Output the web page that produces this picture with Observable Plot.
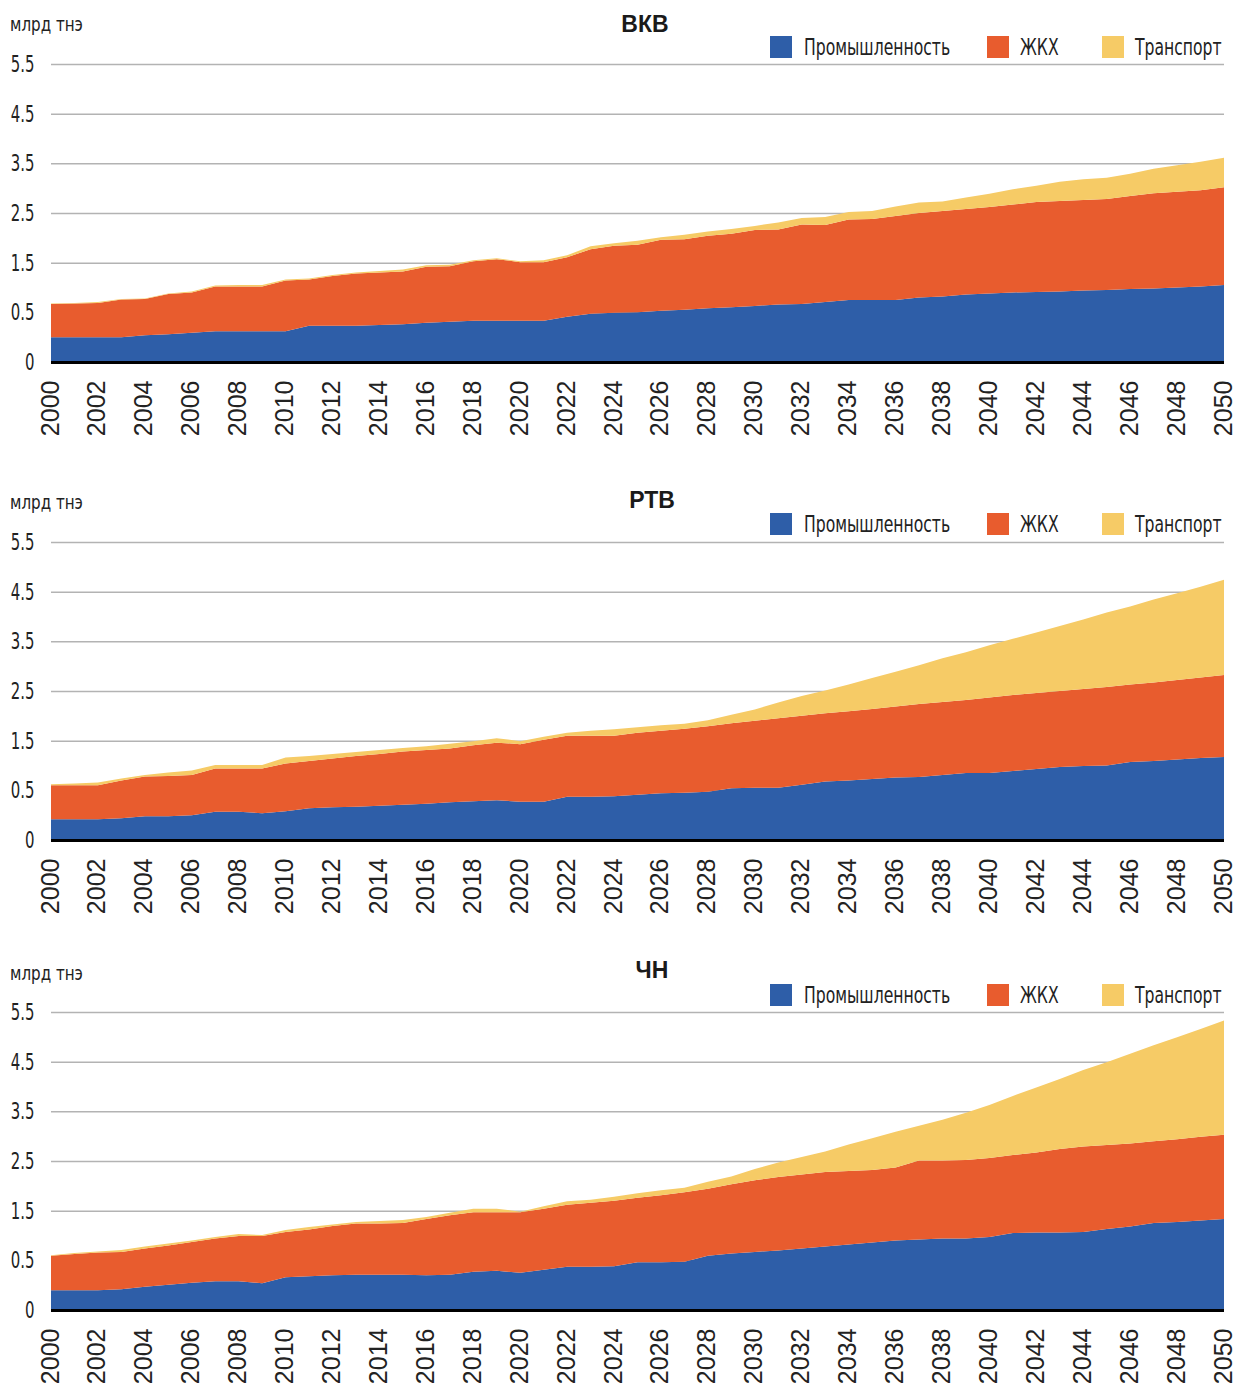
<!DOCTYPE html>
<html>
<head>
<meta charset="utf-8">
<script src="https://cdn.jsdelivr.net/npm/d3@7"></script>
<script src="https://cdn.jsdelivr.net/npm/@observablehq/plot@0.6"></script>
<style>
  html, body { margin: 0; padding: 0; background: #fff; }
  #root { position: relative; width: 1235px; height: 1387px; overflow: hidden; }
  .cond { font-family: "Liberation Sans Narrow", "DejaVu Sans Condensed", "Roboto", sans-serif; color: #222; }
  .title { position: absolute; font-family: "Liberation Sans", Arial, sans-serif; font-weight: bold; font-size: 23px; color: #1a1a1a; transform: translate(-50%, -50%); white-space: nowrap; }
  .unit { position: absolute; left: 10px; font-size: 20px; transform: translateY(-50%) scaleX(0.84); transform-origin: left center; white-space: nowrap; }
  .sw { position: absolute; width: 22px; height: 22px; transform: translateY(-50%); }
  .lt { position: absolute; transform: translateY(-50%) scaleX(0.755); transform-origin: left center; font-size: 23px; white-space: nowrap; }
  .panel { position: absolute; left: 0; }
</style>
</head>
<body>
<div id="root"></div>
<script>
const years = [2000,2001,2002,2003,2004,2005,2006,2007,2008,2009,2010,2011,2012,2013,2014,2015,2016,2017,2018,2019,2020,2021,2022,2023,2024,2025,2026,2027,2028,2029,2030,2031,2032,2033,2034,2035,2036,2037,2038,2039,2040,2041,2042,2043,2044,2045,2046,2047,2048,2049,2050];
const xTickYears = [2000,2002,2004,2006,2008,2010,2012,2014,2016,2018,2020,2022,2024,2026,2028,2030,2032,2034,2036,2038,2040,2042,2044,2046,2048,2050];
const yTickValues = [0,1,2,3,4,5,6];
const yTickLabels = ["0","0.5","1.5","2.5","3.5","4.5","5.5"];
const sectors = ["Промышленность","ЖКХ","Транспорт"];
const sectorColors = ["#2e5ea8","#e85c2e","#f6cb66"];
const unitLabel = "млрд тнэ";
const panelTitles = ["ВКВ","РТВ","ЧН"];

// ВКВ
const vkvIndustry = [0.50,0.50,0.50,0.50,0.54,0.56,0.59,0.62,0.62,0.62,0.62,0.73,0.73,0.73,0.745,0.76,0.79,0.81,0.83,0.83,0.83,0.83,0.91,0.97,0.99,1.00,1.03,1.05,1.08,1.10,1.13,1.16,1.17,1.21,1.25,1.25,1.25,1.30,1.32,1.36,1.38,1.40,1.41,1.42,1.44,1.45,1.47,1.48,1.50,1.52,1.55];
const vkvHousing = [0.67,0.68,0.69,0.76,0.73,0.81,0.81,0.90,0.90,0.90,1.02,0.93,1.00,1.05,1.055,1.06,1.13,1.12,1.20,1.24,1.18,1.18,1.20,1.30,1.35,1.36,1.43,1.42,1.46,1.48,1.53,1.51,1.60,1.55,1.62,1.63,1.69,1.70,1.72,1.72,1.74,1.77,1.81,1.82,1.82,1.83,1.87,1.92,1.93,1.94,1.97];
const vkvTransport = [0.01,0.01,0.02,0.01,0.01,0.01,0.02,0.02,0.03,0.03,0.02,0.02,0.02,0.02,0.03,0.04,0.03,0.03,0.02,0.02,0.02,0.04,0.04,0.06,0.05,0.08,0.05,0.09,0.09,0.10,0.08,0.14,0.13,0.16,0.15,0.16,0.19,0.21,0.19,0.23,0.27,0.31,0.33,0.39,0.42,0.43,0.45,0.49,0.53,0.57,0.59];

// РТВ
const rtvIndustry = [0.42,0.42,0.42,0.44,0.48,0.48,0.50,0.57,0.57,0.54,0.58,0.64,0.66,0.67,0.69,0.71,0.73,0.76,0.78,0.80,0.77,0.77,0.87,0.87,0.88,0.91,0.94,0.95,0.97,1.04,1.05,1.05,1.11,1.18,1.20,1.23,1.26,1.27,1.31,1.35,1.35,1.39,1.43,1.47,1.49,1.50,1.57,1.59,1.62,1.65,1.67];
const rtvHousing = [0.68,0.68,0.68,0.76,0.80,0.81,0.81,0.87,0.87,0.90,0.96,0.95,0.98,1.02,1.04,1.07,1.08,1.08,1.13,1.16,1.16,1.25,1.23,1.23,1.22,1.25,1.26,1.29,1.32,1.31,1.35,1.40,1.39,1.37,1.39,1.41,1.43,1.47,1.47,1.47,1.52,1.53,1.53,1.53,1.55,1.58,1.56,1.58,1.60,1.62,1.65];
const rtvTransport = [0.02,0.04,0.06,0.04,0.03,0.07,0.09,0.07,0.07,0.07,0.12,0.10,0.09,0.08,0.08,0.07,0.08,0.10,0.08,0.09,0.06,0.06,0.06,0.10,0.13,0.11,0.11,0.10,0.12,0.17,0.23,0.32,0.40,0.46,0.54,0.62,0.70,0.78,0.88,0.96,1.05,1.13,1.22,1.31,1.40,1.50,1.57,1.67,1.75,1.83,1.92];

// ЧН
const chnIndustry = [0.40,0.40,0.40,0.42,0.47,0.51,0.55,0.58,0.58,0.54,0.66,0.68,0.70,0.71,0.71,0.71,0.70,0.71,0.77,0.79,0.75,0.81,0.87,0.87,0.88,0.96,0.96,0.97,1.09,1.14,1.17,1.20,1.24,1.28,1.32,1.36,1.40,1.42,1.44,1.44,1.47,1.55,1.56,1.56,1.57,1.63,1.68,1.75,1.77,1.80,1.83];
const chnHousing = [0.69,0.73,0.76,0.75,0.77,0.79,0.82,0.86,0.91,0.95,0.91,0.94,0.99,1.03,1.03,1.04,1.13,1.20,1.20,1.18,1.22,1.23,1.25,1.29,1.32,1.30,1.35,1.40,1.35,1.39,1.44,1.48,1.49,1.50,1.48,1.46,1.47,1.59,1.57,1.58,1.59,1.57,1.61,1.68,1.72,1.69,1.67,1.65,1.67,1.69,1.70];
const chnTransport = [0.01,0.02,0.02,0.04,0.04,0.04,0.03,0.03,0.04,0.02,0.04,0.05,0.03,0.03,0.05,0.06,0.04,0.05,0.07,0.07,0.01,0.05,0.07,0.06,0.08,0.09,0.10,0.09,0.14,0.16,0.23,0.29,0.35,0.41,0.53,0.64,0.72,0.70,0.82,0.95,1.07,1.19,1.31,1.41,1.54,1.67,1.81,1.93,2.05,2.17,2.30];

const panels = [
  {title: panelTitles[0], series: [vkvIndustry, vkvHousing, vkvTransport], titleX: 645, titleY: 24, unitY: 24, legendY: 47, svgTop: 54},
  {title: panelTitles[1], series: [rtvIndustry, rtvHousing, rtvTransport], titleX: 652, titleY: 500, unitY: 502, legendY: 524, svgTop: 532},
  {title: panelTitles[2], series: [chnIndustry, chnHousing, chnTransport], titleX: 652, titleY: 970, unitY: 973, legendY: 995, svgTop: 1002}
];

const root = document.getElementById("root");
const condFont = '"Liberation Sans Narrow", "DejaVu Sans Condensed", Roboto, sans-serif';
const legendPos = [{sx: 770, tx: 804}, {sx: 987, tx: 1020}, {sx: 1102, tx: 1135}];

function el(tag, cls, style, text) {
  const e = document.createElement(tag);
  if (cls) e.className = cls;
  Object.assign(e.style, style || {});
  if (text != null) e.textContent = text;
  root.appendChild(e);
  return e;
}

// narrow the y tick labels (the reference uses a condensed face) once they are in the DOM
function condense(svg, label, k) {
  d3.select(svg).selectAll(`g[aria-label="${label}"] text`).each(function() {
    const w = this.getComputedTextLength();
    if (w > 0) {
      this.setAttribute("textLength", (w * k).toFixed(2));
      this.setAttribute("lengthAdjust", "spacingAndGlyphs");
    }
  });
}

for (const p of panels) {
  const rows = [];
  p.series.forEach((vals, si) => {
    vals.forEach((v, i) => rows.push({year: years[i], sector: sectors[si], value: v}));
  });

  const chart = Plot.plot({
    width: 1235,
    height: 393,
    marginLeft: 51,
    marginRight: 11,
    marginTop: 10,
    marginBottom: 85,
    style: {background: "transparent", overflow: "visible"},
    x: {domain: [2000, 2050], label: null},
    y: {domain: [0, 6], label: null},
    color: {domain: sectors, range: sectorColors},
    marks: [
      Plot.ruleY(yTickValues.filter(v => v > 0), {stroke: "#b3b3b3", strokeWidth: 1.5}),
      Plot.areaY(rows, {x: "year", y: "value", fill: "sector", order: sectors}),
      Plot.ruleY([0], {stroke: "#000", strokeWidth: 3}),
      Plot.axisX({ticks: xTickYears, tickFormat: d => String(d), tickRotate: -90, tickSize: 0, tickPadding: 18, dx: -1, fontSize: 25, fontFamily: '"Liberation Sans", Arial, sans-serif', fill: "#222", label: null}),
      Plot.axisY({ticks: yTickValues, tickFormat: v => yTickLabels[v], tickSize: 0, tickPadding: 17, fontSize: 23, fontFamily: condFont, fill: "#222", label: null})
    ]
  });
  chart.classList.add("panel");
  chart.style.top = p.svgTop + "px";
  root.appendChild(chart);
  condense(chart, "y-axis tick label", 0.72);

  el("div", "title", {left: p.titleX + "px", top: p.titleY + "px"}, p.title);
  el("div", "unit cond", {top: p.unitY + "px"}, unitLabel);
  sectors.forEach((s, i) => {
    el("div", "sw", {left: legendPos[i].sx + "px", top: p.legendY + "px", background: sectorColors[i]});
    el("div", "lt cond", {left: legendPos[i].tx + "px", top: p.legendY + "px"}, s);
  });
}
</script>
</body>
</html>
